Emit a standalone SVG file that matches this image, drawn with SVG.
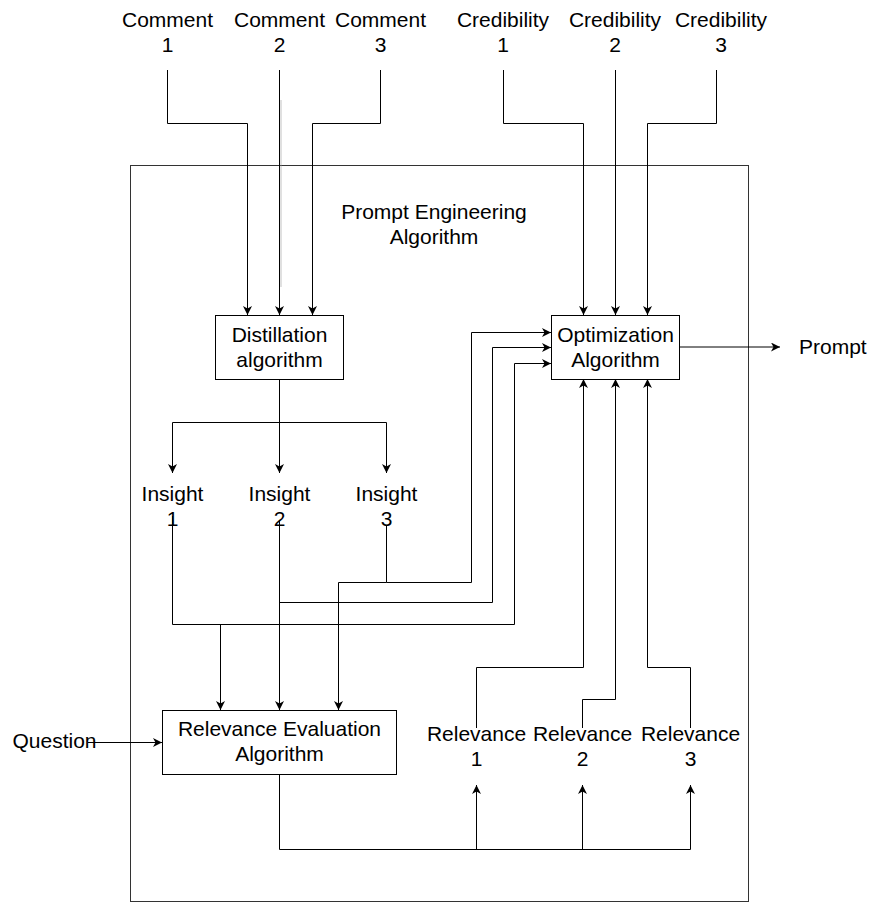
<svg xmlns="http://www.w3.org/2000/svg" width="873" height="903" viewBox="0 0 873 903">
<style>
text{font-family:"Liberation Sans",Arial,Helvetica,sans-serif;font-size:21px;fill:#000;text-anchor:middle}
.box{fill:#fff;stroke:#000;stroke-width:1}
.frame{fill:none;stroke:#333;stroke-width:1}
.c{fill:none;stroke:#000;stroke-width:1;marker-end:url(#arr)}
.n{fill:none;stroke:#000;stroke-width:1}
.faint{fill:none;stroke:#999;stroke-width:0.6}
</style>
<defs>
<marker id="arr" markerUnits="userSpaceOnUse" markerWidth="12" markerHeight="12" refX="9" refY="4.5" orient="auto">
<path d="M0,0 L9,4.5 L0,9 L2.5,4.5 Z" fill="#000"/>
</marker>
</defs>
<rect id="frame" class="frame" x="130.5" y="165.5" width="618" height="736"/>
<g id="title"><text x="434" y="219">Prompt Engineering</text><text x="434" y="244">Algorithm</text></g>
<g id="connectors">
<path class="c" d="M167.5,70 V123.5 H247.5 V315"/>
<path class="c" d="M279.5,70 V315"/>
<path class="faint" d="M281,100 V287"/>
<path class="c" d="M380.5,70 V123.5 H312.5 V315"/>
<path class="c" d="M503.5,70 V123.5 H583.5 V315"/>
<path class="c" d="M615.5,70 V315"/>
<path class="c" d="M716.5,70 V123.5 H647.5 V315"/>
<path class="c" d="M679,347 H780"/>
<path class="c" d="M279.5,379 V473"/>
<path class="c" d="M279.5,422.5 H172.5 V473"/>
<path class="c" d="M279.5,422.5 H386.5 V473"/>
<path class="c" d="M386.5,526 V582.5 H471.5 V332.5 H551"/>
<path class="c" d="M386.5,582.5 H338.5 V710"/>
<path class="c" d="M279.5,521 V710"/>
<path class="c" d="M279.5,602.5 H492.5 V347.5 H551"/>
<path class="c" d="M172.5,516 V624.5 H514.5 V363.5 H551"/>
<path class="c" d="M220.5,624.5 V710"/>
<path class="c" d="M88,742.5 H162"/>
<path class="n" d="M279.5,774 V849.5 H690.5"/>
<path class="c" d="M476.5,849.5 V785"/>
<path class="c" d="M582.5,849.5 V785"/>
<path class="c" d="M690.5,849.5 V785"/>
<path class="c" d="M476.5,728 V667.5 H583.5 V379"/>
<path class="c" d="M582.5,728 V699.5 H615.5 V379"/>
<path class="c" d="M690.5,728 V667.5 H647.5 V379"/>
</g>
<g id="comment1"><text x="167.5" y="27">Comment</text><text x="167.5" y="52">1</text></g>
<g id="comment2"><text x="279.5" y="27">Comment</text><text x="279.5" y="52">2</text></g>
<g id="comment3"><text x="380.5" y="27">Comment</text><text x="380.5" y="52">3</text></g>
<g id="credibility1"><text x="503" y="27">Credibility</text><text x="503" y="52">1</text></g>
<g id="credibility2"><text x="615" y="27">Credibility</text><text x="615" y="52">2</text></g>
<g id="credibility3"><text x="721" y="27">Credibility</text><text x="721" y="52">3</text></g>
<g id="distillation"><rect class="box" x="215.5" y="315.5" width="128" height="64"/><text x="279.5" y="342">Distillation</text><text x="279.5" y="367">algorithm</text></g>
<g id="optimization"><rect class="box" x="551.5" y="315.5" width="128" height="64"/><text x="615.5" y="342">Optimization</text><text x="615.5" y="367">Algorithm</text></g>
<g id="prompt"><text x="799" y="354" style="text-anchor:start">Prompt</text></g>
<g id="insight1"><text x="172.5" y="501">Insight</text><text x="172.5" y="526">1</text></g>
<g id="insight2"><text x="279.5" y="501">Insight</text><text x="279.5" y="526">2</text></g>
<g id="insight3"><text x="386.5" y="501">Insight</text><text x="386.5" y="526">3</text></g>
<g id="question"><text x="12.5" y="748" style="text-anchor:start">Question</text></g>
<g id="relevanceEval"><rect class="box" x="162.5" y="710.5" width="234" height="64"/><text x="279.5" y="736">Relevance Evaluation</text><text x="279.5" y="761">Algorithm</text></g>
<g id="relevance1"><text x="476.5" y="741">Relevance</text><text x="476.5" y="766">1</text></g>
<g id="relevance2"><text x="582.5" y="741">Relevance</text><text x="582.5" y="766">2</text></g>
<g id="relevance3"><text x="690.5" y="741">Relevance</text><text x="690.5" y="766">3</text></g>
</svg>
